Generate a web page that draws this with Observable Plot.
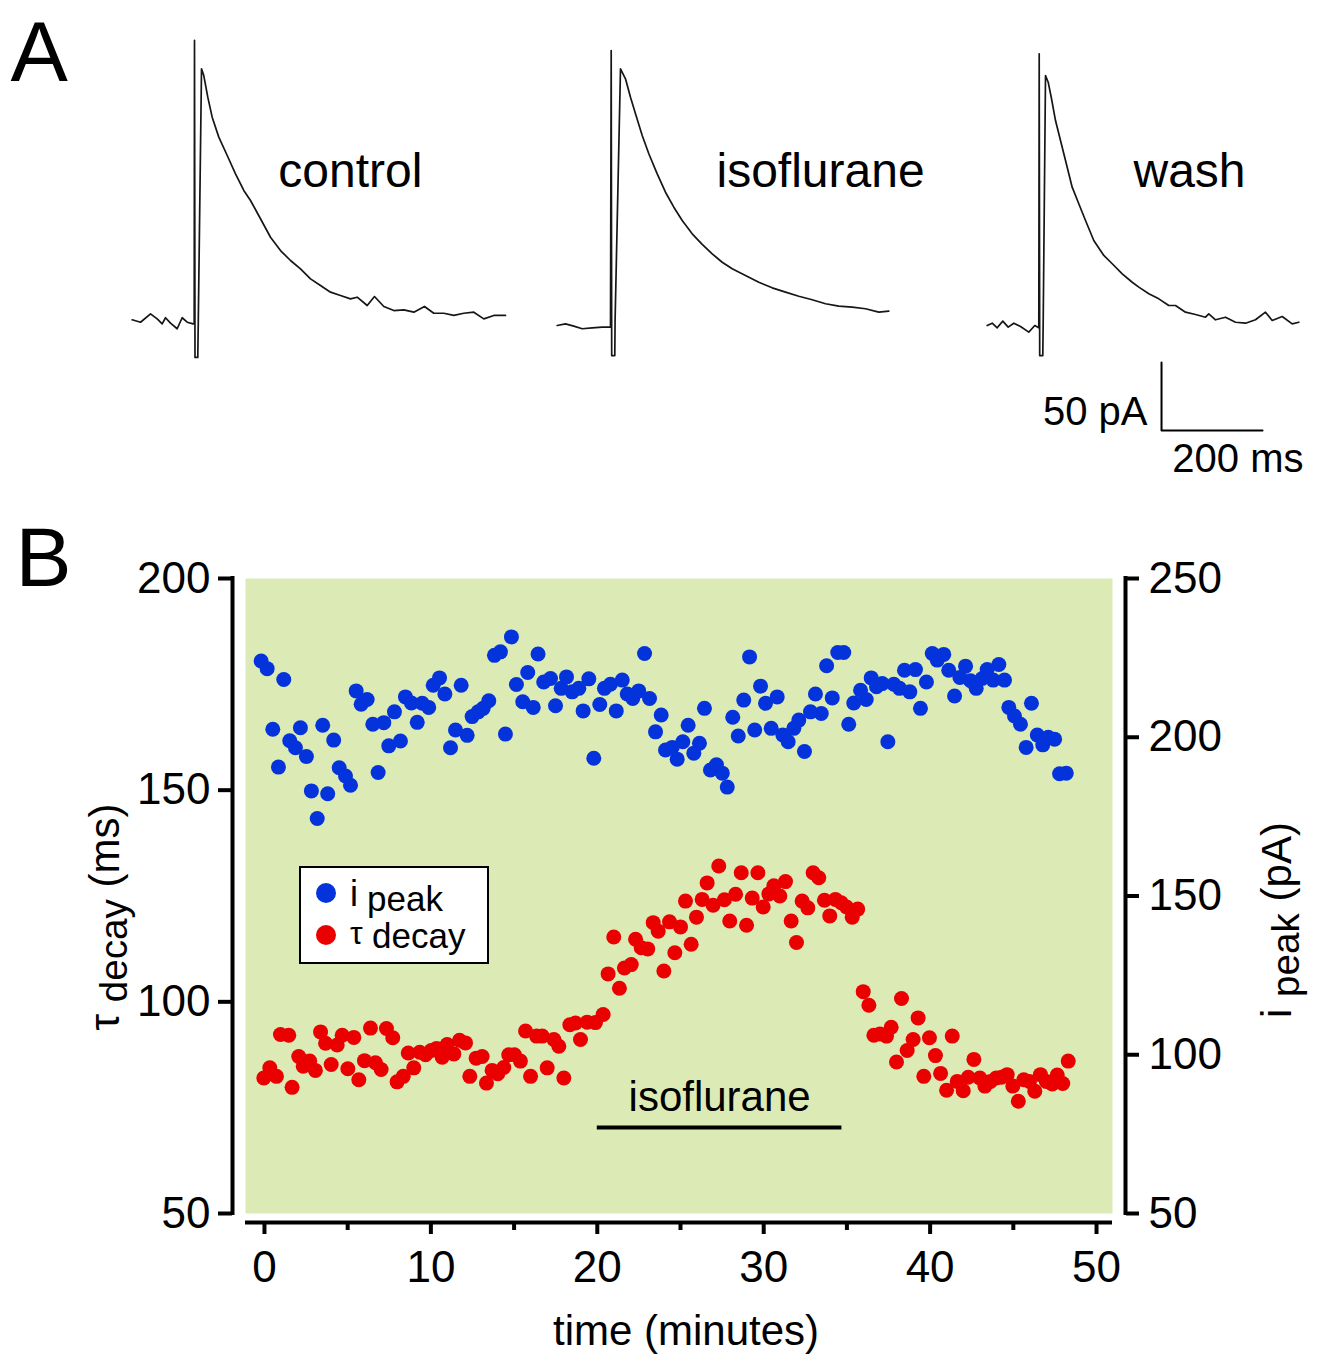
<!DOCTYPE html>
<html>
<head>
<meta charset="utf-8">
<script src="https://cdn.jsdelivr.net/npm/d3@7"></script>
<script src="https://cdn.jsdelivr.net/npm/@observablehq/plot@0.6"></script>
<style>
  html, body { margin: 0; padding: 0; background: #fff; }
  #fig { position: relative; width: 1324px; height: 1355px; overflow: hidden; background: #fff;
         font-family: "Liberation Sans", Arial, sans-serif; color: #000; }
  #panelA, #panelB { position: absolute; left: 0; }
  #panelA { top: 0; }
  #panelB { top: 490px; }
  .ylab { position: absolute; white-space: nowrap; font-size: 42px; line-height: 1;
          transform: translate(-50%, -50%) rotate(-90deg); }
  .sub { position: relative; top: 0.2em; font-size: 0.92em; }
  .abs { position: absolute; white-space: nowrap; line-height: 1; }
  #legendBox { position: absolute; left: 299px; top: 866px; width: 190px; height: 98px;
               box-sizing: border-box; border: 2px solid #000; background: #fff; }
  .ldot { position: absolute; width: 20px; height: 20px; border-radius: 50%; }
</style>
</head>
<body>
<div id="fig">
  <div id="panelA"></div>
  <div id="panelB"></div>
</div>
<script>
// ---------------- DATA ----------------
// Panel A: current traces, [time (ms, relative to stimulus), current (pA)]
const controlTrace = [[-123.4,4.2],[-106.9,2.4],[-87.1,8.6],[-73.9,4.9],[-64.0,1.2],[-57.4,5.7],[-47.5,1.7],[-34.3,-2.4],[-24.4,5.7],[-14.5,2.4],[-2.6,1.2],[-0.6,1.5],[0,209.6],[1.0,-23.5],[6.5,-23.5],[7.5,2.9],[13.9,188.7],[18.4,183.8],[26.3,167.9],[35.0,153.2],[48.1,138.5],[64.8,125.0],[81.2,111.5],[97.6,99.3],[110.9,91.9],[130.7,78.5],[150.5,64.9],[170.3,55.1],[190.1,47.8],[209.9,41.7],[229.7,34.3],[249.5,29.4],[269.3,24.5],[289.1,22.1],[308.9,19.6],[322.2,20.8],[342.0,14.7],[356.4,21.3],[374.9,14.0],[394.7,11.0],[414.5,11.5],[434.3,9.8],[455.4,14.0],[473.9,9.0],[493.7,9.0],[513.5,7.4],[533.3,9.0],[553.1,9.8],[572.9,4.9],[592.7,7.4],[615.8,7.4]];
const isoTrace = [[-106.9,0],[-90.5,1.2],[-74.1,-0.5],[-57.4,-2.4],[-37.6,-1.7],[-17.8,-1.2],[-1.4,-1.2],[0,202.2],[1.0,-22.1],[7.1,-22.1],[7.7,3.7],[18.4,188.7],[28.3,181.4],[38.2,167.9],[48.1,155.7],[61.4,139.7],[74.5,126.3],[91.1,111.5],[107.5,98.0],[124.0,87.0],[140.6,77.2],[160.4,67.4],[180.2,59.6],[200.0,52.7],[219.8,46.5],[239.6,41.7],[265.9,36.8],[292.3,31.8],[318.8,27.7],[345.2,24.5],[371.5,21.5],[398.0,18.9],[424.4,16.0],[450.7,14.2],[477.2,13.5],[503.6,12.3],[529.9,9.8],[549.7,10.5]];
const washTrace = [[-103.0,0],[-93.1,1.7],[-83.2,-1.7],[-72.1,3.2],[-61.4,-1.2],[-50.3,1.7],[-37.0,-0.7],[-20.6,-4.9],[-8.7,0],[-0.8,-1.7],[0,199.8],[1.0,-22.1],[7.1,-22.1],[7.9,2.4],[12.5,183.8],[17.8,178.9],[24.4,166.7],[32.3,150.7],[42.2,136.0],[52.1,121.3],[65.3,101.7],[78.4,89.5],[91.7,77.2],[108.1,62.5],[127.9,51.5],[144.6,45.4],[164.4,38.0],[184.2,31.8],[197.3,28.2],[217.1,23.3],[236.8,19.6],[256.6,14.7],[269.9,14.7],[289.7,9.8],[309.5,8.1],[329.3,6.1],[335.8,8.6],[349.1,4.2],[368.9,6.1],[388.7,2.4],[408.5,1.7],[428.3,4.2],[448.1,9.8],[461.4,3.7],[481.2,6.6],[501.0,1.2],[514.1,2.4]];
const traceNames = ["control", "isoflurane", "wash"];
const scaleBar = {ms: 200, pA: 50};

// Panel B: [time (minutes), value]
const peakSeries = [[-0.20,224.0],[0.16,221.6],[0.50,202.5],[0.84,190.6],[1.16,218.2],[1.52,198.9],[1.86,196.7],[2.16,203.0],[2.52,193.9],[2.82,183.1],[3.17,174.4],[3.50,203.8],[3.80,182.2],[4.16,199.1],[4.49,190.4],[4.87,187.8],[5.17,184.9],[5.51,214.6],[5.81,210.4],[6.17,211.9],[6.51,204.1],[6.83,188.9],[7.17,204.6],[7.47,197.3],[7.81,208.0],[8.17,198.8],[8.47,212.7],[8.83,210.8],[9.18,204.7],[9.48,210.7],[9.87,209.4],[10.14,216.4],[10.52,218.7],[10.84,213.6],[11.18,196.7],[11.48,202.3],[11.82,216.4],[12.18,200.6],[12.48,206.5],[12.84,208.0],[13.14,209.1],[13.48,211.5],[13.82,225.8],[14.18,226.9],[14.48,201.0],[14.84,231.6],[15.14,216.6],[15.52,211.2],[15.82,220.4],[16.15,209.4],[16.44,226.2],[16.78,217.4],[17.19,218.5],[17.49,209.9],[17.83,215.4],[18.15,219.0],[18.49,214.3],[18.89,215.4],[19.15,208.3],[19.49,218.4],[19.79,193.4],[20.15,210.3],[20.43,215.4],[20.79,216.7],[21.14,208.3],[21.50,218.0],[21.80,213.6],[22.13,212.2],[22.49,214.6],[22.84,226.4],[23.14,212.2],[23.50,201.7],[23.84,207.0],[24.10,196.0],[24.50,196.8],[24.80,193.1],[25.14,198.6],[25.46,203.8],[25.80,195.0],[26.14,198.1],[26.44,209.1],[26.80,189.7],[27.16,191.3],[27.51,188.7],[27.81,184.3],[28.14,206.3],[28.47,200.4],[28.80,211.7],[29.15,225.3],[29.46,202.3],[29.81,216.1],[30.11,210.7],[30.45,202.8],[30.81,212.7],[31.15,200.7],[31.47,198.6],[31.81,202.8],[32.11,205.4],[32.45,195.5],[32.81,208.0],[33.11,213.6],[33.46,207.5],[33.78,222.5],[34.12,212.4],[34.45,226.7],[34.81,226.7],[35.11,204.1],[35.41,210.8],[35.82,214.8],[36.16,211.9],[36.46,218.7],[36.78,215.9],[37.12,216.9],[37.46,198.6],[37.82,216.7],[38.16,215.4],[38.46,221.1],[38.78,214.3],[39.12,221.3],[39.42,209.1],[39.78,217.4],[40.13,226.4],[40.43,224.3],[40.82,226.1],[41.12,221.1],[41.47,213.0],[41.79,218.8],[42.13,222.4],[42.43,217.8],[42.77,215.4],[43.13,218.5],[43.43,221.3],[43.79,218.0],[44.13,222.9],[44.47,218.0],[44.73,209.4],[45.07,206.7],[45.43,204.1],[45.77,196.8],[46.09,210.7],[46.44,200.7],[46.77,197.6],[47.10,200.0],[47.48,199.4],[47.78,188.5],[48.18,188.7]];
const decaySeries = [[-0.04,82.0],[0.32,84.4],[0.72,82.4],[0.96,92.3],[1.46,92.1],[1.66,79.8],[2.06,87.1],[2.33,84.8],[2.72,86.0],[3.06,83.8],[3.37,92.9],[3.67,90.2],[4.01,85.2],[4.37,89.8],[4.67,92.1],[5.01,84.2],[5.37,91.6],[5.67,81.6],[6.01,86.1],[6.37,93.8],[6.67,85.6],[7.01,84.0],[7.33,93.7],[7.71,91.5],[7.97,81.1],[8.34,82.4],[8.64,87.9],[8.97,84.4],[9.33,88.1],[9.68,87.5],[10.02,88.5],[10.34,89.0],[10.68,86.9],[10.98,89.9],[11.38,87.7],[11.72,90.9],[12.08,90.3],[12.34,82.4],[12.72,86.7],[13.08,87.1],[13.34,80.8],[13.68,83.8],[14.02,83.0],[14.38,84.5],[14.68,87.5],[15.02,87.5],[15.38,86.0],[15.69,93.1],[15.99,82.4],[16.35,91.9],[16.69,91.9],[16.99,84.4],[17.39,91.1],[17.69,89.5],[17.99,82.0],[18.35,94.6],[18.69,95.0],[18.99,91.1],[19.39,95.2],[19.89,95.1],[20.35,97.0],[20.65,106.6],[20.99,115.3],[21.33,103.2],[21.63,108.0],[22.04,108.8],[22.30,114.8],[22.64,112.8],[23.03,112.5],[23.36,118.7],[23.66,116.7],[24.00,107.3],[24.34,118.9],[24.66,111.6],[25.00,117.7],[25.30,123.8],[25.64,113.6],[25.96,120.0],[26.30,124.2],[26.60,128.1],[26.96,122.8],[27.30,132.1],[27.64,124.1],[27.96,119.1],[28.31,125.4],[28.65,130.5],[28.97,118.1],[29.31,124.5],[29.65,130.5],[29.97,122.4],[30.31,125.5],[30.61,127.4],[30.97,125.0],[31.31,128.4],[31.65,119.1],[31.97,114.0],[32.31,123.8],[32.65,122.2],[32.97,130.5],[33.31,129.3],[33.65,124.0],[33.97,120.3],[34.31,124.2],[34.66,123.4],[34.98,122.4],[35.32,120.0],[35.65,121.9],[35.98,102.4],[36.32,99.2],[36.62,92.1],[36.98,92.4],[37.38,91.9],[37.66,94.0],[37.98,85.8],[38.28,100.8],[38.62,88.5],[38.98,91.1],[39.28,96.2],[39.62,82.4],[39.96,91.5],[40.32,87.3],[40.63,83.1],[40.99,79.1],[41.33,91.9],[41.63,81.2],[41.99,79.0],[42.29,82.2],[42.63,86.4],[42.99,82.0],[43.29,80.1],[43.63,81.2],[43.97,82.0],[44.29,82.2],[44.63,82.8],[44.97,80.1],[45.30,76.5],[45.63,81.6],[45.97,81.2],[46.29,78.9],[46.63,82.8],[46.98,81.2],[47.34,80.6],[47.64,82.7],[47.97,80.7],[48.30,86.0]];
const isoPeriod = [20, 34.7];       // minutes
const isoBarTau = 70.3;             // drawn at this tau level
const xTicks = [0, 10, 20, 30, 40, 50];
const xMinorTicks = [5, 15, 25, 35, 45];
const leftTicks = [50, 100, 150, 200];
const rightTicks = [50, 100, 150, 200, 250];
const leftDomain = [50, 200];
const rightDomain = [50, 250];
const xDomain = [-1.14, 50.96];

// ---------------- STYLE / LAYOUT ----------------
const FONT = '"Liberation Sans", Arial, sans-serif';
const W = 1324;
const BLUE = "#0433dc", RED = "#ea0000", GREEN = "#dcebb6";
const LA = {height: 490, originPx: 194, basePx: 325, pxPerMs: 0.505, pxPerPA: 1.36};
const stimPx = {control: 194, isoflurane: 610.7, wash: 1038.7};
const labelDx = {control: 166, isoflurane: 208.5, wash: 186.7};  // ms after stimulus
const labelPA = 101.5;
const scaleBarAt = {ms: 1914.9, pA: -77.2};

// ---------------- PANEL A ----------------
const traces = {control: controlTrace, isoflurane: isoTrace, wash: washTrace};
const offset = name => (stimPx[name] - LA.originPx) / LA.pxPerMs;
const traceRows = traceNames.flatMap(name =>
  traces[name].map(([t, i]) => ({trace: name, x: t + offset(name), y: i})));
const labelRows = traceNames.map(name => ({text: name, x: offset(name) + labelDx[name], y: labelPA}));
const sb = [
  {x: scaleBarAt.ms, y: scaleBarAt.pA + scaleBar.pA},
  {x: scaleBarAt.ms, y: scaleBarAt.pA},
  {x: scaleBarAt.ms + scaleBar.ms, y: scaleBarAt.pA}
];

const plotA = Plot.plot({
  width: W, height: LA.height, margin: 0,
  x: {domain: [-LA.originPx / LA.pxPerMs, (W - LA.originPx) / LA.pxPerMs], axis: null},
  y: {domain: [-(LA.height - LA.basePx) / LA.pxPerPA, LA.basePx / LA.pxPerPA], axis: null},
  style: {fontFamily: FONT, background: "transparent", overflow: "visible", color: "#000"},
  marks: [
    Plot.line(traceRows, {x: "x", y: "y", z: "trace", stroke: "#161616", strokeWidth: 1.7, strokeLinejoin: "round"}),
    Plot.text(labelRows, {x: "x", y: "y", text: "text", fontSize: 48, textAnchor: "start", lineAnchor: "bottom"}),
    Plot.line(sb, {x: "x", y: "y", stroke: "#000", strokeWidth: 2}),
    Plot.text([`${scaleBar.pA} pA`], {x: scaleBarAt.ms, y: scaleBarAt.pA, dx: -14, dy: -5, textAnchor: "end", lineAnchor: "bottom", fontSize: 40}),
    Plot.text([`${scaleBar.ms} ms`], {x: scaleBarAt.ms + scaleBar.ms, y: scaleBarAt.pA, dx: 41, dy: 42, textAnchor: "end", lineAnchor: "bottom", fontSize: 40}),
    Plot.text(["A"], {frameAnchor: "top-left", dx: 10, dy: 80, textAnchor: "start", lineAnchor: "bottom", fontSize: 86})
  ]
});
document.getElementById("panelA").appendChild(plotA);

// ---------------- PANEL B ----------------
const k = (leftDomain[1] - leftDomain[0]) / (rightDomain[1] - rightDomain[0]);
const toLeft = v => leftDomain[0] + (v - rightDomain[0]) * k;
const fromLeft = y => rightDomain[0] + (y - leftDomain[0]) / k;
const peakRows = peakSeries.map(([t, v]) => ({t, v}));
const decayRows = decaySeries.map(([t, v]) => ({t, v}));

const plotB = Plot.plot({
  width: W, height: 865,
  marginLeft: 232, marginRight: 199, marginTop: 88, marginBottom: 133,
  x: {domain: xDomain, insetLeft: 13, insetRight: 13},
  y: {domain: leftDomain, insetBottom: 9},
  style: {fontFamily: FONT, fontSize: "44px", background: "transparent", overflow: "visible", color: "#000"},
  marks: [
    Plot.frame({fill: GREEN, stroke: "none", insetLeft: 13, insetRight: 13, insetBottom: 9}),
    Plot.dot(peakRows, {x: "t", y: d => toLeft(d.v), r: 7.5, fill: BLUE}),
    Plot.dot(decayRows, {x: "t", y: "v", r: 7.5, fill: RED}),
    // axis lines (offset from the plotting area)
    Plot.ruleY([leftDomain[0]], {x1: xDomain[0], x2: xDomain[1], dy: 9, strokeWidth: 4}),
    Plot.ruleX([xDomain[0]], {y1: leftDomain[0], y2: leftDomain[1], dx: -13, strokeWidth: 4, strokeLinecap: "square"}),
    Plot.ruleX([xDomain[1]], {y1: leftDomain[0], y2: leftDomain[1], dx: 13, strokeWidth: 4, strokeLinecap: "square"}),
    Plot.axisX(xTicks, {tickSize: 12, tickPadding: 16, strokeWidth: 4, fontSize: 44, label: null}),
    Plot.axisX(xMinorTicks, {tickSize: 8, tickFormat: () => "", strokeWidth: 4, label: null}),
    Plot.axisY(leftTicks, {anchor: "left", tickSize: 14, tickPadding: 8, strokeWidth: 4, fontSize: 44, label: null}),
    Plot.axisY(rightTicks.map(toLeft), {anchor: "right", tickSize: 13, tickPadding: 10, strokeWidth: 4, fontSize: 44,
      tickFormat: d => Math.round(fromLeft(d)), label: null}),
    // isoflurane application bar
    Plot.ruleY([isoBarTau], {x1: isoPeriod[0], x2: isoPeriod[1], strokeWidth: 4}),
    Plot.text(["isoflurane"], {x: (isoPeriod[0] + isoPeriod[1]) / 2, y: 77.4, fontSize: 42}),
    Plot.text(["time (minutes)"], {frameAnchor: "bottom", dx: 7, dy: 122, lineAnchor: "bottom", fontSize: 42}),
    Plot.text(["B"], {frameAnchor: "top-left", dx: -217, dy: 7, textAnchor: "start", lineAnchor: "bottom", fontSize: 84})
  ]
});
document.getElementById("panelB").appendChild(plotB);

// ---------------- HTML text with subscripts (axis titles, legend) ----------------
const fig = document.getElementById("fig");
function addHTML(html) { fig.insertAdjacentHTML("beforeend", html); }
addHTML(`<div class="ylab" style="left:105px;top:917px">τ <span class="sub">decay</span> (ms)</div>`);
addHTML(`<div class="ylab" style="left:1277px;top:920px">i <span class="sub">peak</span> (pA)</div>`);
addHTML(`<div id="legendBox"></div>`);
addHTML(`<div class="ldot" style="left:316px;top:883px;background:${BLUE}"></div>`);
addHTML(`<div class="ldot" style="left:316px;top:925px;background:${RED}"></div>`);
addHTML(`<div class="abs" style="left:350px;top:876px;font-size:36px">i</div>`);
addHTML(`<div class="abs" style="left:367px;top:881px;font-size:35px">peak</div>`);
addHTML(`<div class="abs" style="left:350px;top:917px;font-size:32px">τ</div>`);
addHTML(`<div class="abs" style="left:372px;top:918px;font-size:35px">decay</div>`);
</script>
</body>
</html>
